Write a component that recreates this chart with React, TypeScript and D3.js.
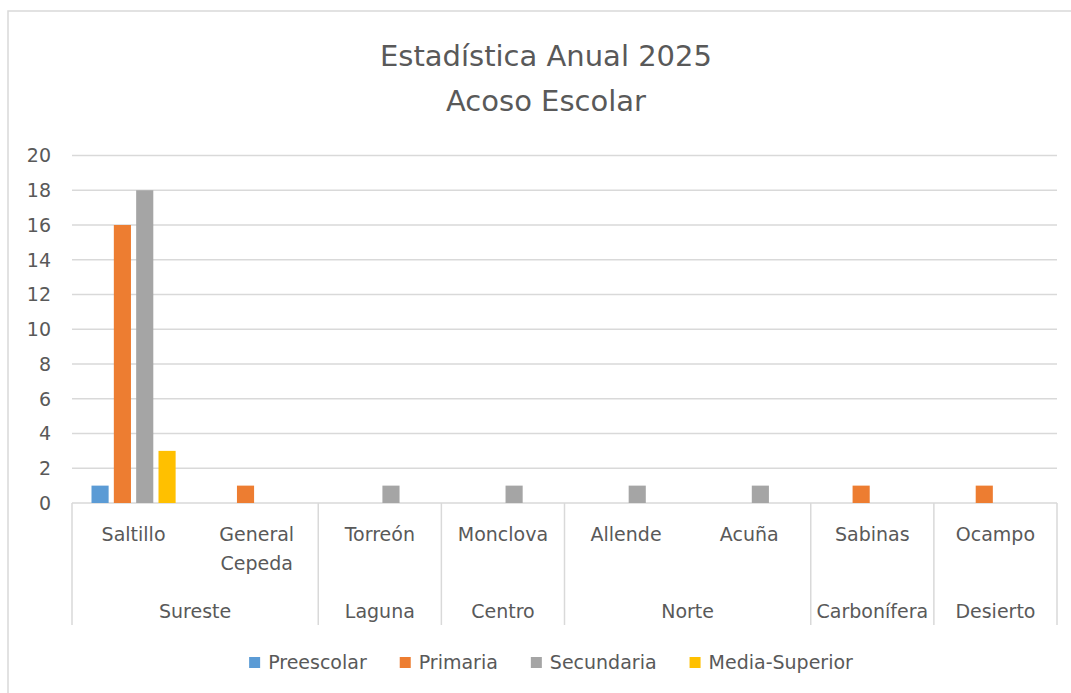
import React, { useEffect, useRef } from "react";
import * as d3 from "d3";

const titleLines = ["Estadística Anual 2025", "Acoso Escolar"];
const municipalities = ["Saltillo", "General Cepeda", "Torreón", "Monclova", "Allende", "Acuña", "Sabinas", "Ocampo"];
const municipalityRegion = ["Sureste", "Sureste", "Laguna", "Centro", "Norte", "Norte", "Carbonífera", "Desierto"];
const regions = ["Sureste", "Laguna", "Centro", "Norte", "Carbonífera", "Desierto"];
const seriesNames = ["Preescolar", "Primaria", "Secundaria", "Media-Superior"];
const seriesColors = ["#5B9BD5", "#ED7D31", "#A5A5A5", "#FFC000"];
const preescolar = [1, 0, 0, 0, 0, 0, 0, 0];
const primaria = [16, 1, 0, 0, 0, 0, 1, 1];
const secundaria = [18, 0, 1, 1, 1, 1, 0, 0];
const mediaSuperior = [3, 0, 0, 0, 0, 0, 0, 0];
const yTicks = [0, 2, 4, 6, 8, 10, 12, 14, 16, 18, 20];

const W = 1071;
const H = 693;
const FONT = "'DejaVu Sans', sans-serif";
const TEXT = "#595959";
const GRID = "#d9d9d9";

export default function App() {
  const ref = useRef<SVGSVGElement | null>(null);

  useEffect(() => {
    const svg = d3.select(ref.current);
    svg.selectAll("*").remove();

    const series = [preescolar, primaria, secundaria, mediaSuperior];
    const left = 72, right = 1057, y0 = 503, y20 = 155.5;

    // chart border
    svg.append("rect").attr("x", 8).attr("y", 11).attr("width", 1100).attr("height", 700)
      .attr("fill", "#fff").attr("stroke", GRID).attr("stroke-width", 1.5);

    // title
    const title = svg.append("text").attr("text-anchor", "middle").attr("fill", TEXT)
      .attr("font-family", FONT).attr("font-size", 29);
    titleLines.forEach((t, i) => {
      title.append("tspan").attr("x", 546).attr("y", 66 + i * 45).text(t);
    });

    const x = d3.scaleBand<string>().domain(municipalities).range([left, right]).padding(0);
    const bw = x.bandwidth();
    const xs = d3.scaleBand<string>().domain(seriesNames).range([19.5, bw - 19.5]).paddingInner(0.233).paddingOuter(0);
    const y = d3.scaleLinear().domain([0, 20]).range([y0, y20]);

    // gridlines
    svg.append("g").selectAll("line").data(yTicks).join("line")
      .attr("x1", left).attr("x2", right)
      .attr("y1", (d) => y(d)).attr("y2", (d) => y(d))
      .attr("stroke", GRID).attr("stroke-width", 1.5);

    // y tick labels
    svg.append("g").selectAll("text").data(yTicks).join("text")
      .attr("x", 51).attr("y", (d) => y(d)).attr("dy", "0.36em")
      .attr("text-anchor", "end").attr("fill", TEXT)
      .attr("font-family", FONT).attr("font-size", 19)
      .text((d) => d);

    // bars
    series.forEach((vals, si) => {
      svg.append("g").selectAll("rect").data(vals.map((v, i) => ({ v, m: municipalities[i] })).filter((d) => d.v > 0))
        .join("rect")
        .attr("x", (d) => (x(d.m) as number) + (xs(seriesNames[si]) as number))
        .attr("width", xs.bandwidth())
        .attr("y", (d) => y(d.v))
        .attr("height", (d) => y(0) - y(d.v))
        .attr("fill", seriesColors[si]);
    });

    // category axis: dividers at region boundaries
    const boundaries: number[] = [left];
    regions.forEach((r) => {
      const idx = municipalityRegion.map((m, i) => (m === r ? i : -1)).filter((i) => i >= 0);
      const last = idx[idx.length - 1];
      boundaries.push((x(municipalities[last]) as number) + bw);
    });
    svg.append("g").selectAll("line").data(boundaries).join("line")
      .attr("x1", (d) => d).attr("x2", (d) => d)
      .attr("y1", y0).attr("y2", 625)
      .attr("stroke", GRID).attr("stroke-width", 1.5);

    // municipality labels
    const catG = svg.append("g").attr("font-family", FONT).attr("font-size", 19).attr("fill", TEXT).attr("text-anchor", "middle");
    municipalities.forEach((m) => {
      const cx = (x(m) as number) + bw / 2;
      const words = m.length > 10 ? m.split(" ") : [m];
      const t = catG.append("text");
      words.forEach((w, i) => {
        t.append("tspan").attr("x", cx).attr("y", 541 + i * 29).text(w);
      });
    });

    // region labels
    regions.forEach((r) => {
      const idx = municipalityRegion.map((m, i) => (m === r ? i : -1)).filter((i) => i >= 0);
      const x1 = x(municipalities[idx[0]]) as number;
      const x2 = (x(municipalities[idx[idx.length - 1]]) as number) + bw;
      catG.append("text").attr("x", (x1 + x2) / 2).attr("y", 618).text(r);
    });

    // legend
    const lg = svg.append("g").attr("font-family", FONT).attr("font-size", 19).attr("fill", TEXT);
    const items = seriesNames.map((s, i) => {
      const g = lg.append("g");
      g.append("rect").attr("x", 0).attr("y", 657).attr("width", 11).attr("height", 11).attr("fill", seriesColors[i]);
      const t = g.append("text").attr("x", 19).attr("y", 669).text(s);
      const w = 19 + (t.node() as SVGTextElement).getComputedTextLength();
      return { g, w };
    });
    const gap = 33;
    const total = d3.sum(items, (d) => d.w) + gap * (items.length - 1);
    let cur = 551 - total / 2;
    items.forEach((it) => {
      it.g.attr("transform", `translate(${cur},0)`);
      cur += it.w + gap;
    });
  }, []);

  return (
    <svg ref={ref} width={W} height={H} style={{ position: "absolute", left: 0, top: 0, background: "#fff" }} />
  );
}
